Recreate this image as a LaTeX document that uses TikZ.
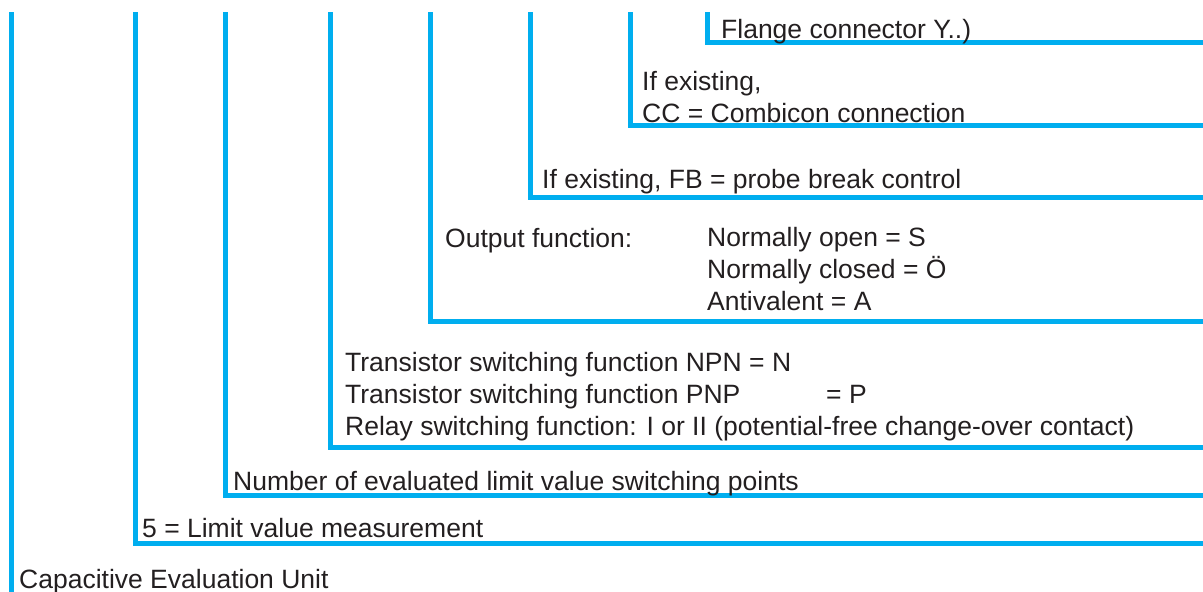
\documentclass[tikz,border=0pt]{standalone}
\usepackage{fontspec}
\setmainfont{Liberation Sans}
\definecolor{codeblue}{HTML}{00AEEF}
\definecolor{codegray}{HTML}{231F20}

\begin{document}
\begin{tikzpicture}[x=1pt,y=-1pt,
        bar/.style={draw=codeblue,line width=5pt},
        lbl/.style={text=codegray,inner sep=0pt,anchor=base west,align=left,
          font=\fontsize{26.5}{31.8}\selectfont}]
        \useasboundingbox (0,0) rectangle (1203,592);
        \foreach \n/\x in {a/11,b/135,c/225,d/330,e/430,f/530,g/630,h/707}
          \coordinate (top\n) at (\x,12);
        \coordinate (enda) at (11,592);
        \foreach \n/\y in {b/543,c/495,d/447,e/321,f/197,g/125,h/42}
          \coordinate (end\n) at (1203,\y);
        \draw[bar] (topa) -- (enda);
        \foreach \n in {b,c,d,e,f,g,h}
          \draw[bar] (top\n) |- (end\n);
        \node[lbl] (unit) at (19,588) {Capacitive Evaluation Unit};
        \node[lbl] (limit) at (142,537) {5 = Limit value measurement};
        \node[lbl] (points) at (233,490) {Number of evaluated limit value switching points};
        \node[lbl] (switching) at (345,435) {Transistor switching function NPN = N\\
          \makebox[481pt][l]{Transistor switching function PNP}= P\\
          Relay switching function: I or II (potential-free change-over contact)};
        \node[lbl] (output) at (445,247) {Output function:};
        \node[lbl] (outvals) at (707,310) {Normally open = S\\Normally closed = Ö\\Antivalent = A};
        \node[lbl] (probe) at (542,188) {If existing, FB = probe break control};
        \node[lbl] (combicon) at (642,122) {If existing,\\CC = Combicon connection};
        \node[lbl] (flange) at (721,38) {Flange connector Y..)};
\end{tikzpicture}
\end{document}
